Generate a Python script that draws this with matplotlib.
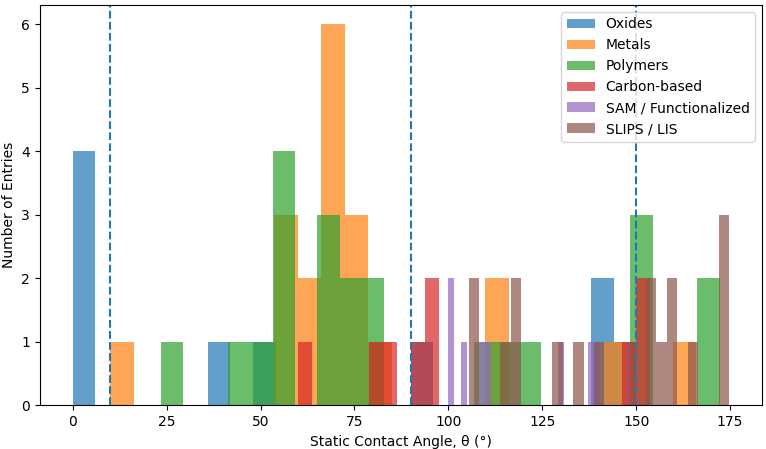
import numpy as np
import matplotlib.pyplot as plt

# 재료 종류별 정적 접촉각 데이터 (단위: °)
oxides = [0, 2, 3, 5, 39, 51, 93, 140, 142, 150]
metals = [10, 55, 57, 58, 62, 64, 67, 68, 69, 70, 71, 72, 74, 75, 77, 82,
          112, 114, 145, 166]
polymers = [23.5, 44, 50, 55, 56, 57, 58, 66, 68, 70, 73, 75, 79, 81,
            110, 116, 122, 150, 151, 153, 168, 172.25]
carbon = [60, 80, 84, 92, 95, 96, 148, 152, 153.75]
sam = [100, 101, 104, 109, 110.5, 130, 138, 140.5]
slips = [105.5, 107, 115, 117.5, 118.5, 129, 134.5, 140, 153.5, 154.5,
         157, 159, 160, 165, 173, 174, 174.8]

labels = ['Oxides', 'Metals', 'Polymers', 'Carbon-based',
          'SAM / Functionalized', 'SLIPS / LIS']
groups = [oxides, metals, polymers, carbon, sam, slips]

# 친수/소수/초소수 경계선
thresholds = [10, 90, 150]

fig = plt.figure(figsize=(7.66, 4.49), dpi=100)
ax = fig.add_subplot(111)
fig.subplots_adjust(left=0.052, right=0.995, top=0.989, bottom=0.097)

for data, label in zip(groups, labels):
    ax.hist(data, bins=25, alpha=0.7, label=label)

for t in thresholds:
    ax.axvline(t, color='C0', linestyle='--', linewidth=1.5)

ax.set_xlabel('Static Contact Angle, θ (°)')
ax.set_ylabel('Number of Entries')
ax.legend(loc='upper right')

plt.savefig('out.png')
